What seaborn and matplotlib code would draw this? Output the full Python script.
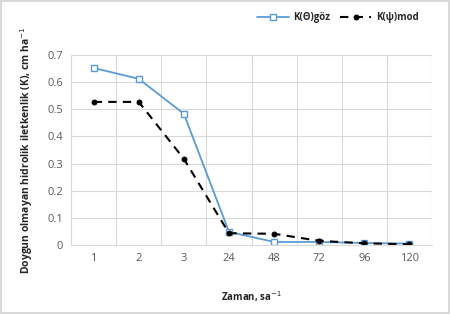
import pandas as pd
import matplotlib.pyplot as plt
import seaborn as sns

# Data
times = ['1', '2', '3', '24', '48', '72', '96', '120']
k_goz = [0.652, 0.612, 0.483, 0.048, 0.011, 0.011, 0.007, 0.005]
k_mod = [0.527, 0.527, 0.317, 0.043, 0.041, 0.015, 0.006, 0.002]

df = pd.DataFrame({'pos': list(range(len(times))) * 2,
                   'K': k_goz + k_mod,
                   'seri': ['K(Θ)göz'] * len(times) + ['K(ψ)mod'] * len(times)})

sns.set_style("whitegrid")
plt.rcParams['font.family'] = ['Open Sans', 'DejaVu Sans']

fig = plt.figure(figsize=(4.5, 3.14), dpi=100)
ax = fig.add_axes([0.158, 0.22, 0.802, 0.605])

blue = '#5B9BD5'
sns.lineplot(data=df[df['seri'] == 'K(Θ)göz'], x='pos', y='K', ax=ax, color=blue,
             linewidth=1.3, marker='s', markersize=5, markerfacecolor='white',
             markeredgecolor=blue, markeredgewidth=1.0, label='K(Θ)göz')
sns.lineplot(data=df[df['seri'] == 'K(ψ)mod'], x='pos', y='K', ax=ax, color='black',
             linewidth=1.5, linestyle=(0, (4, 3)), marker='o', markersize=3.5,
             markeredgecolor='black', label='K(ψ)mod')

ax.set_xlim(-0.5, len(times) - 0.5)
ax.set_ylim(0, 0.7)
ax.set_yticks([0, 0.1, 0.2, 0.3, 0.4, 0.5, 0.6, 0.7])
ax.set_yticklabels(['0', '0.1', '0.2', '0.3', '0.4', '0.5', '0.6', '0.7'])
ax.set_xticks(range(len(times)))
ax.set_xticklabels(times)
ax.xaxis.grid(False)
for b in range(len(times) + 1):
    ax.axvline(b - 0.5, color='#D9D9D9', linewidth=0.8, zorder=0)
ax.yaxis.grid(True, color='#D9D9D9', linewidth=0.8)
for s in ['top', 'right', 'left']:
    ax.spines[s].set_visible(False)
ax.spines['bottom'].set_color('#D9D9D9')
ax.tick_params(axis='both', labelsize=8, colors='#595959', length=0, pad=6)

ax.set_xlabel('Zaman, sa$^{-1}$', fontsize=7, fontweight='bold', labelpad=18)
ax.set_ylabel('Doygun olmayan hidrolik iletkenlik (K), cm ha$^{-1}$',
              fontsize=7.5, fontweight='bold', labelpad=9)

leg = ax.legend(loc='center', bbox_to_anchor=(0.74, 1.195), ncol=2, frameon=False,
                handlelength=3.2, columnspacing=1.0, handletextpad=0.5,
                prop={'size': 7, 'weight': 'bold'})

fig.patch.set_edgecolor('#D9D9D9')
fig.patch.set_linewidth(1.5)
fig.savefig('out.png', dpi=100, edgecolor=fig.get_edgecolor())
